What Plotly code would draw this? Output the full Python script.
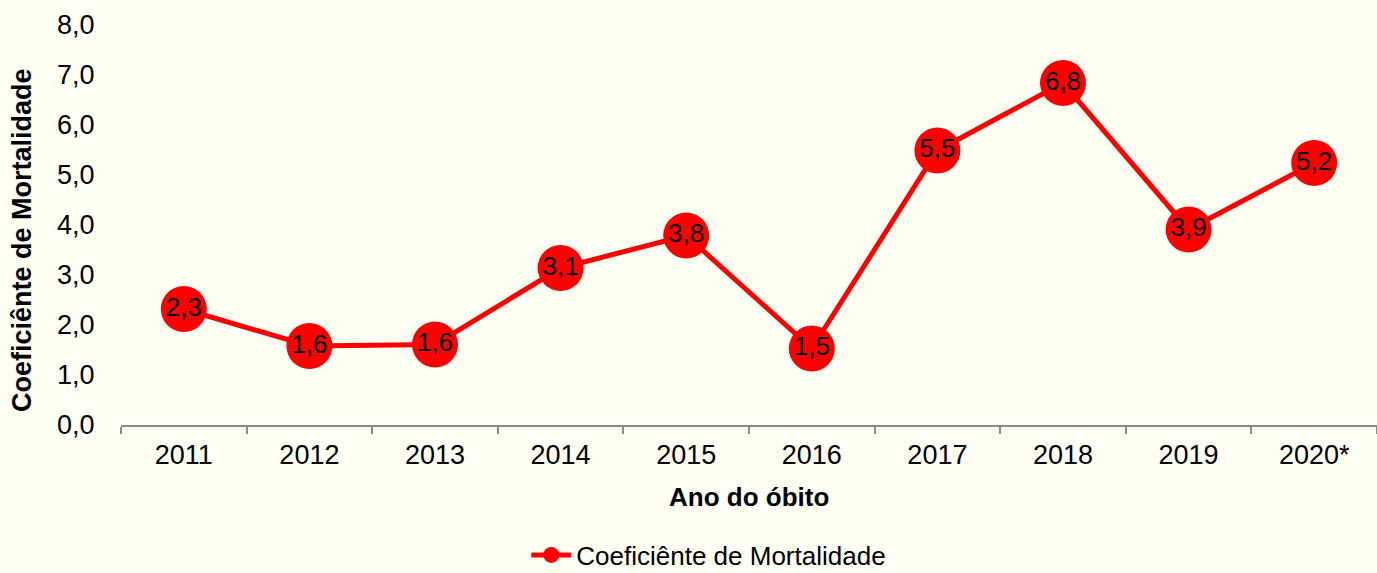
import plotly.graph_objects as go

anos = ["2011", "2012", "2013", "2014", "2015", "2016", "2017", "2018", "2019", "2020*"]
coeficiente = [2.32, 1.58, 1.61, 3.14, 3.79, 1.53, 5.49, 6.84, 3.91, 5.24]
y_ticks = [0, 1, 2, 3, 4, 5, 6, 7, 8]

bg = "#FFFFF3"
FONT = "Arial, Liberation Sans"
fig = go.Figure()
fig.add_trace(go.Scatter(
    x=anos, y=coeficiente, mode="lines+markers+text",
    name="Coeficiênte de Mortalidade",
    line=dict(color="#FF0000", width=5),
    marker=dict(color="#FF0000", size=46),
    texttemplate="%{y:.1f}", textposition="middle center",
    textfont=dict(family=FONT, size=26, color="#000000"),
    cliponaxis=False,
))

fig.update_layout(
    width=1377, height=573,
    paper_bgcolor=bg, plot_bgcolor=bg,
    separators=",.",
    margin=dict(l=121, r=0, t=25, b=148, autoexpand=False),
    font=dict(family=FONT, size=26, color="#000000"),
    showlegend=True,
    legend=dict(orientation="h", x=0.468, xanchor="center", y=-0.325, yanchor="middle",
                font=dict(size=26), bgcolor="rgba(0,0,0,0)", itemwidth=40),
    annotations=[
        dict(text="<b>Ano do óbito</b>", x=0.5, xref="paper", y=-0.18, yref="paper",
             xanchor="center", yanchor="middle", showarrow=False, font=dict(size=26)),
        dict(text="<b>Coeficiênte de Mortalidade</b>", x=-0.0788, xref="paper", y=0.4625, yref="paper",
             xanchor="center", yanchor="middle", showarrow=False, textangle=-90, font=dict(size=27)),
    ],
)
fig.update_xaxes(
    type="category", range=[-0.5, 9.5], showgrid=False, automargin=False,
    showline=True, linecolor="#8C8C8C", linewidth=2,
    ticks="outside", tickson="boundaries", ticklen=7, tickcolor="#8C8C8C", tickwidth=2,
    ticklabelstandoff=5, tickfont=dict(size=27),
)
fig.update_yaxes(
    range=[0, 8], tickvals=y_ticks, tickformat=".1f", showgrid=False, zeroline=False,
    automargin=False, showline=False, ticks="outside", ticklen=20, tickcolor="rgba(0,0,0,0)",
    tickfont=dict(size=27),
)
fig.write_html(
    "out.html",
    config={"displayModeBar": False},
    post_script="document.body.style.margin='0';document.body.style.background='%s';" % bg,
)
